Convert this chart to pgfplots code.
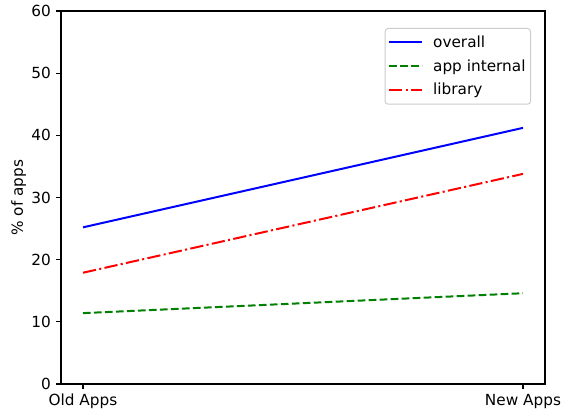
\documentclass[border=0pt]{standalone}
\usepackage{fontspec}
\setmainfont{DejaVu Sans}
\usepackage{pgfplots}
\pgfplotsset{compat=1.18}
\begin{document}
\fontsize{15.3bp}{17bp}\selectfont
\begin{tikzpicture}
\begin{axis}[
  name=ax,
  scale only axis,
  width=484bp, height=373bp,
  xmin=-0.05, xmax=1.05,
  ymin=0, ymax=60,
  xtick={0,1},
  xticklabels={Old Apps, New Apps},
  ytick={0,10,20,30,40,50,60},
  /pgf/number format/assume math mode=true,
  tick align=outside,
  tick pos=left,
  major tick length=4.9bp,
  every tick/.style={black, line width=1.1bp},
  axis line style={line width=1.1bp},
  axis lines=box,
  ylabel={\% of apps},
  ylabel style={yshift=-5bp},
  tick label style={font=\fontsize{15.3bp}{17bp}\selectfont},
  label style={font=\fontsize{15.3bp}{17bp}\selectfont},
  legend style={
    at={(1-14/484,1-17/373)}, anchor=north east,
    draw=black!20, rounded corners=3bp, line width=1bp,
    font=\fontsize{15.3bp}{17bp}\selectfont,
    inner xsep=3bp, inner ysep=5bp,
    row sep=6bp,
    cells={anchor=west},
  },
  legend image code/.code={\draw[#1] (0bp,0bp) -- (33bp,0bp); \path[draw=none,fill=none] (-1bp,0bp) -- (42bp,0bp);},
]
\addplot[blue, line width=2bp] coordinates {(0,25.2) (1,41.2)};
\addlegendentry{overall}
\addplot[green!50!black, line width=2bp, dash pattern=on 7.7bp off 3.3bp] coordinates {(0,11.4) (1,14.6)};
\addlegendentry{app internal}
\addplot[red, line width=2bp, dash pattern=on 13.3bp off 3.3bp on 2.1bp off 3.3bp] coordinates {(0,17.9) (1,33.8)};
\addlegendentry{library}
\end{axis}
\pgfresetboundingbox
\path (ax.south west)++(-61bp,-29bp) coordinate (bl);
\path (ax.north east)++(17bp,11bp) coordinate (tr);
\path (bl) rectangle (tr);
\end{tikzpicture}
\end{document}
